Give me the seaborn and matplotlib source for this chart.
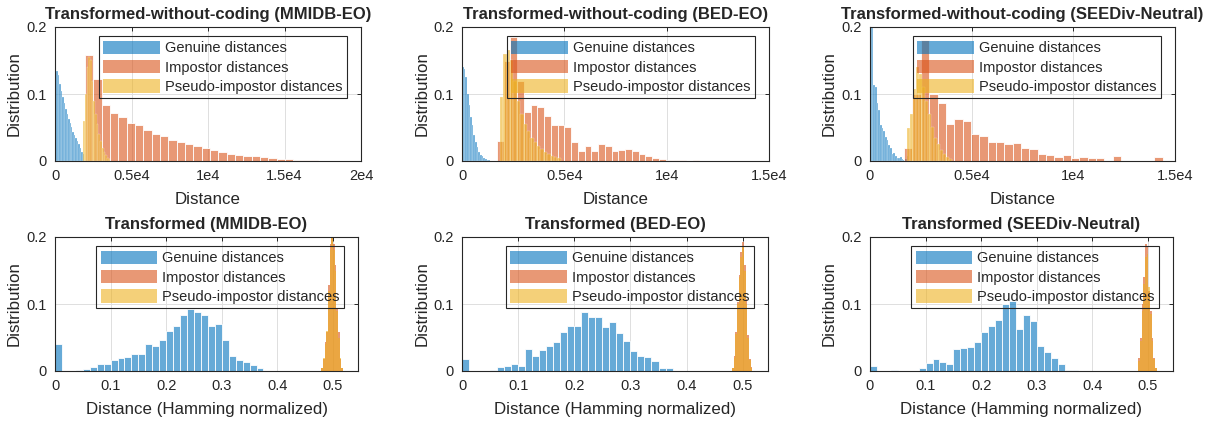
import numpy as np
import pandas as pd
import matplotlib
matplotlib.use("Agg")
import matplotlib.pyplot as plt
import seaborn as sns
from matplotlib.patches import Patch

# ---------------- data ----------------
series_labels = ["Genuine distances", "Impostor distances", "Pseudo-impostor distances"]
top_titles = ["Transformed-without-coding (MMIDB-EO)",
              "Transformed-without-coding (BED-EO)",
              "Transformed-without-coding (SEEDiv-Neutral)"]
bottom_titles = ["Transformed (MMIDB-EO)", "Transformed (BED-EO)", "Transformed (SEEDiv-Neutral)"]
top_xlabel = "Distance"
bottom_xlabel = "Distance (Hamming normalized)"
ylabel = "Distribution"

top_xticks_1 = [0, 5000, 10000, 15000, 20000]
top_xticklabels_1 = ["0", "0.5e4", "1e4", "1.5e4", "2e4"]
top_xticks_23 = [0, 5000, 10000, 15000]
top_xticklabels_23 = ["0", "0.5e4", "1e4", "1.5e4"]
bottom_xticks = [0, 0.1, 0.2, 0.3, 0.4, 0.5]
bottom_xticklabels = ["0", "0.1", "0.2", "0.3", "0.4", "0.5"]
yticks = [0, 0.1, 0.2]
yticklabels = ["0", "0.1", "0.2"]

# Top row (raw distances): (bin start, bin width) and bar heights
mmidb_raw_gen_bins = (0, 95)
mmidb_raw_gen = [0.187, 0.135, 0.128, 0.115, 0.104, 0.095, 0.086, 0.078, 0.070, 0.063,
                 0.056, 0.050, 0.044, 0.039, 0.034, 0.030, 0.025, 0.020, 0.014, 0.010]
mmidb_raw_imp_bins = (1960, 545)
mmidb_raw_imp = [0.158, 0.122, 0.083, 0.072, 0.065, 0.057, 0.054, 0.046, 0.041, 0.037,
                 0.032, 0.029, 0.025, 0.022, 0.019, 0.016, 0.014, 0.011, 0.0095, 0.008,
                 0.007, 0.0055, 0.0045, 0.0035, 0.0025, 0.002, 0.0015, 0.001]
mmidb_raw_pse_bins = (1850, 110)
mmidb_raw_pse = [0.06, 0.10, 0.14, 0.155, 0.15, 0.12, 0.09, 0.07, 0.055, 0.04,
                 0.03, 0.02, 0.014, 0.009, 0.005, 0.003]

bed_raw_gen_bins = (0, 80)
bed_raw_gen = [0.141, 0.138, 0.125, 0.10, 0.084, 0.066, 0.054, 0.039, 0.029, 0.021,
               0.014, 0.009, 0.007, 0.005, 0.003, 0.002, 0.001]
bed_raw_imp_bins = (1700, 330)
bed_raw_imp = [0.03, 0.15, 0.185, 0.12, 0.073, 0.083, 0.08, 0.067, 0.053, 0.053,
               0.05, 0.028, 0.015, 0.022, 0.015, 0.025, 0.022, 0.015, 0.016, 0.018,
               0.015, 0.01, 0.007, 0.005, 0.003, 0.002, 0.002, 0.002, 0.0, 0.001]
bed_raw_pse_bins = (1850, 165)
bed_raw_pse = [0.095, 0.16, 0.165, 0.15, 0.12, 0.09, 0.07, 0.055, 0.045, 0.035,
               0.028, 0.022, 0.018, 0.014, 0.011, 0.008, 0.006, 0.004]

seed_raw_gen_bins = (0, 82)
seed_raw_gen = [0.21, 0.198, 0.113, 0.11, 0.086, 0.076, 0.054, 0.049, 0.045, 0.036,
                0.031, 0.024, 0.02, 0.011, 0.012, 0.008, 0.005, 0.004, 0.006, 0.003,
                0.002, 0.003, 0.008]
seed_raw_imp_bins = (1680, 410)
seed_raw_imp = [0.02, 0.1, 0.18, 0.1, 0.087, 0.055, 0.062, 0.06, 0.04, 0.038,
                0.028, 0.028, 0.025, 0.027, 0.02, 0.018, 0.01, 0.009, 0.006, 0.009,
                0.004, 0.006, 0.004, 0.005, 0.0, 0.008, 0.0, 0.0, 0.0, 0.0, 0.006]
seed_raw_pse_bins = (1800, 150)
seed_raw_pse = [0.05, 0.07, 0.108, 0.14, 0.13, 0.11, 0.09, 0.07, 0.05, 0.035,
                0.025, 0.016, 0.01, 0.006, 0.003]

# Bottom row (Hamming normalized)
ham_gen_bins = (0, 0.0125)
mmidb_ham_gen = [0.04, 0, 0, 0.002, 0.003, 0.006, 0.01, 0.01, 0.017, 0.02,
                 0.021, 0.025, 0.026, 0.041, 0.037, 0.046, 0.06, 0.067, 0.084, 0.093,
                 0.088, 0.084, 0.067, 0.07, 0.046, 0.023, 0.016, 0.013, 0.009, 0.004]
mmidb_ham_imp_bins = (0.479, 0.003)
mmidb_ham_imp = [0.005, 0.018, 0.043, 0.058, 0.128, 0.19, 0.215, 0.19, 0.158, 0.093, 0.058, 0.018, 0.004]
mmidb_ham_pse = [0.004, 0.02, 0.04, 0.06, 0.12, 0.18, 0.2, 0.18, 0.15, 0.09, 0.05, 0.02, 0.005]

bed_ham_gen = [0.018, 0, 0, 0, 0.002, 0.006, 0.008, 0.01, 0.007, 0.033,
               0.022, 0.031, 0.037, 0.043, 0.058, 0.067, 0.067, 0.088, 0.08, 0.08,
               0.066, 0.073, 0.057, 0.045, 0.03, 0.023, 0.021, 0.015, 0.005, 0.005]
bed_ham_imp_bins = (0.481, 0.003)
bed_ham_imp = [0.005, 0.023, 0.058, 0.103, 0.143, 0.178, 0.193, 0.158, 0.108, 0.053, 0.018, 0.006]
bed_ham_pse = [0.004, 0.02, 0.055, 0.1, 0.14, 0.17, 0.185, 0.15, 0.1, 0.05, 0.017, 0.005]

seed_ham_gen = [0.007, 0, 0, 0.001, 0, 0, 0, 0.004, 0.012, 0.018,
                0.013, 0.01, 0.033, 0.034, 0.036, 0.043, 0.058, 0.067, 0.076, 0.1,
                0.104, 0.063, 0.083, 0.074, 0.037, 0.028, 0.02, 0.011, 0.002, 0.001]
seed_ham_imp_bins = (0.4825, 0.003)
seed_ham_imp = [0.02, 0.05, 0.1, 0.14, 0.19, 0.185, 0.12, 0.09, 0.05, 0.02, 0.004]
seed_ham_pse = [0.015, 0.045, 0.09, 0.13, 0.17, 0.175, 0.125, 0.085, 0.045, 0.018, 0.004]

# ---------------- style ----------------
sns.set_style("white")
plt.rcParams["font.family"] = ["Liberation Sans", "DejaVu Sans"]

C_GEN = "#0072BD"
C_IMP = "#D95319"
C_PSE = "#EDB120"
ALPHA = 0.6
colors = [C_GEN, C_IMP, C_PSE]

fig = plt.figure(figsize=(12.23, 4.22), dpi=100)
W, H = 1223.0, 422.0


def add_ax(left, right, top, bottom):
    return fig.add_axes([left / W, 1 - bottom / H, (right - left) / W, (bottom - top) / H])


def draw_hist(ax, bins, heights, color, lw):
    start, width = bins
    heights = np.asarray(heights, dtype=float)
    edges = start + width * np.arange(len(heights) + 1)
    centers = (edges[:-1] + edges[1:]) / 2
    df = pd.DataFrame({"center": centers, "height": heights})
    sns.histplot(data=df, x="center", weights="height", bins=list(edges), ax=ax,
                 color=color, alpha=ALPHA, edgecolor="white", linewidth=lw,
                 stat="count")


def style_ax(ax, title, xlabel, xlim, xticks, xticklabels):
    ax.set_xlim(*xlim)
    ax.set_ylim(0, 0.2)
    ax.set_xticks(xticks)
    ax.set_xticklabels(xticklabels)
    ax.set_yticks(yticks)
    ax.set_yticklabels(yticklabels)
    ax.set_title(title, fontsize=12, fontweight="bold", pad=6)
    ax.set_xlabel(xlabel, fontsize=12.2, labelpad=6, color="#262626")
    ax.set_ylabel(ylabel, fontsize=12.2, labelpad=3, color="#262626")
    ax.grid(True, color="#dedede", linewidth=0.7)
    ax.set_axisbelow(True)
    for s in ax.spines.values():
        s.set_visible(True)
        s.set_color("#262626")
        s.set_linewidth(0.8)
    ax.tick_params(direction="in", length=3, width=0.7, top=True, right=True,
                   labelsize=10.5, colors="#262626", pad=6)
    handles = [Patch(facecolor=c, alpha=ALPHA, edgecolor="none") for c in colors]
    leg = ax.legend(handles, series_labels, loc="upper right", bbox_to_anchor=(0.955, 0.93),
                    fontsize=10.5, frameon=True, fancybox=False, framealpha=1,
                    handlelength=3.9, handleheight=1.05, handletextpad=0.35,
                    labelspacing=0.3, borderpad=0.3, borderaxespad=0)
    leg.get_frame().set_facecolor("none")
    leg.get_frame().set_edgecolor("#262626")
    leg.get_frame().set_linewidth(0.8)


top_cols = [(55, 361), (462, 769), (870, 1175)]
bot_cols = [(55, 358), (462, 768), (870, 1173)]

top_data = [
    (mmidb_raw_gen_bins, mmidb_raw_gen, mmidb_raw_imp_bins, mmidb_raw_imp, mmidb_raw_pse_bins, mmidb_raw_pse),
    (bed_raw_gen_bins, bed_raw_gen, bed_raw_imp_bins, bed_raw_imp, bed_raw_pse_bins, bed_raw_pse),
    (seed_raw_gen_bins, seed_raw_gen, seed_raw_imp_bins, seed_raw_imp, seed_raw_pse_bins, seed_raw_pse),
]
bot_data = [
    (ham_gen_bins, mmidb_ham_gen, mmidb_ham_imp_bins, mmidb_ham_imp, mmidb_ham_imp_bins, mmidb_ham_pse),
    (ham_gen_bins, bed_ham_gen, bed_ham_imp_bins, bed_ham_imp, bed_ham_imp_bins, bed_ham_pse),
    (ham_gen_bins, seed_ham_gen, seed_ham_imp_bins, seed_ham_imp, seed_ham_imp_bins, seed_ham_pse),
]

for i in range(3):
    ax = add_ax(top_cols[i][0], top_cols[i][1], 27, 161)
    gb, g, ib, im, pb, ps = top_data[i]
    draw_hist(ax, gb, g, C_GEN, 0.15)
    draw_hist(ax, ib, im, C_IMP, 0.6)
    draw_hist(ax, pb, ps, C_PSE, 0.15)
    if i == 0:
        style_ax(ax, top_titles[i], top_xlabel, (0, 20000), top_xticks_1, top_xticklabels_1)
    else:
        style_ax(ax, top_titles[i], top_xlabel, (0, 15000), top_xticks_23, top_xticklabels_23)

for i in range(3):
    ax = add_ax(bot_cols[i][0], bot_cols[i][1], 237, 371)
    gb, g, ib, im, pb, ps = bot_data[i]
    draw_hist(ax, gb, g, C_GEN, 0.6)
    draw_hist(ax, ib, im, C_IMP, 0)
    draw_hist(ax, pb, ps, C_PSE, 0)
    style_ax(ax, bottom_titles[i], bottom_xlabel, (0, 0.545), bottom_xticks, bottom_xticklabels)

fig.savefig("out.png", dpi=100)
